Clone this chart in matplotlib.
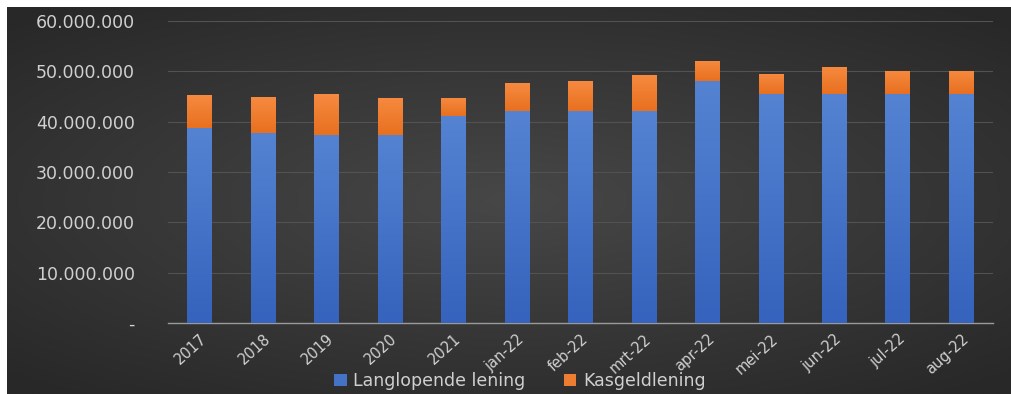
import numpy as np
import matplotlib
matplotlib.use('Agg')
import matplotlib.pyplot as plt
from matplotlib.ticker import FuncFormatter, MultipleLocator
from matplotlib.colors import LinearSegmentedColormap

categories = ['2017', '2018', '2019', '2020', '2021', 'jan-22', 'feb-22', 'mrt-22',
              'apr-22', 'mei-22', 'jun-22', 'jul-22', 'aug-22']
langlopend = [38.7e6, 37.8e6, 37.4e6, 37.4e6, 41.1e6, 42.1e6, 42.1e6, 42.1e6,
              48.1e6, 45.5e6, 45.5e6, 45.5e6, 45.5e6]
totaal = [45.2e6, 44.9e6, 45.4e6, 44.8e6, 44.8e6, 47.6e6, 48.0e6, 49.3e6,
          52.1e6, 49.5e6, 50.9e6, 50.1e6, 50.1e6]
kasgeld = [t - l for t, l in zip(totaal, langlopend)]

BLUE = '#4472C4'
ORANGE = '#ED7D31'
TXT = '#d0d0d0'

fig = plt.figure(figsize=(10.12, 3.94), dpi=100)
fig.patch.set_facecolor('white')

# dark radial background like the Excel style
bg = fig.add_axes([7 / 1012, 0, 1005 / 1012, 387 / 394])
yy, xx = np.mgrid[-1:1:200j, -1:1:400j]
r = np.sqrt((xx * 0.9) ** 2 + (yy * 1.0) ** 2)
bg_cmap = LinearSegmentedColormap.from_list('bg', ['#474747', '#282828'])
bg.imshow(r, cmap=bg_cmap, aspect='auto', vmin=0, vmax=1.3, extent=[0, 1, 0, 1])
bg.axis('off')

ax = fig.add_axes([168 / 1012, 1 - 323 / 394, 825 / 1012, 302 / 394])
ax.set_facecolor('none')

x = np.arange(len(categories))
w = 0.39
b1 = ax.bar(x, langlopend, width=w, color=BLUE, label='Langlopende lening', zorder=3)
b2 = ax.bar(x, kasgeld, width=w, bottom=langlopend, color=ORANGE, label='Kasgeldlening', zorder=3)

# soft vertical gradient on the bars
grad = np.linspace(1, 0, 100).reshape(-1, 1)
for bars, c_top, c_bot in [(b1, '#5583d2', '#3563bd'), (b2, '#f68a40', '#e8701f')]:
    cm = LinearSegmentedColormap.from_list('g', [c_bot, c_top])
    for p in bars:
        x0, y0 = p.get_x(), p.get_y()
        im = ax.imshow(grad, cmap=cm, aspect='auto', zorder=3.5,
                       extent=[x0, x0 + p.get_width(), y0, y0 + p.get_height()])
        im.set_clip_path(p)

ax.set_xlim(-0.5, len(categories) - 0.5)
ax.set_ylim(0, 60e6)
ax.yaxis.set_major_locator(MultipleLocator(10e6))
ax.yaxis.set_major_formatter(FuncFormatter(
    lambda v, pos: '-' if v == 0 else f'{int(v):,}'.replace(',', '.')))
ax.grid(axis='y', color='#525252', linewidth=0.8, zorder=0)
ax.set_axisbelow(True)

for s in ['top', 'right', 'left']:
    ax.spines[s].set_visible(False)
ax.spines['bottom'].set_color('#9a9a9a')
ax.spines['bottom'].set_linewidth(1.0)

ax.set_xticks(x)
ax.set_xticklabels(categories, rotation=42, ha='right', rotation_mode='anchor')
ax.tick_params(axis='x', length=0, colors=TXT, labelsize=10.5, pad=6)
ax.tick_params(axis='y', length=0, colors=TXT, labelsize=12.5, pad=24)

fig.legend(handles=[b1, b2], labels=['Langlopende lening', 'Kasgeldlening'],
           loc='center', bbox_to_anchor=(520 / 1012, 1 - 381 / 394), ncol=2,
           frameon=False, fontsize=12.5, labelcolor=TXT, handlelength=0.7,
           handleheight=0.7, columnspacing=2.2, handletextpad=0.4)

fig.savefig('out.png', dpi=100, facecolor=fig.get_facecolor())
